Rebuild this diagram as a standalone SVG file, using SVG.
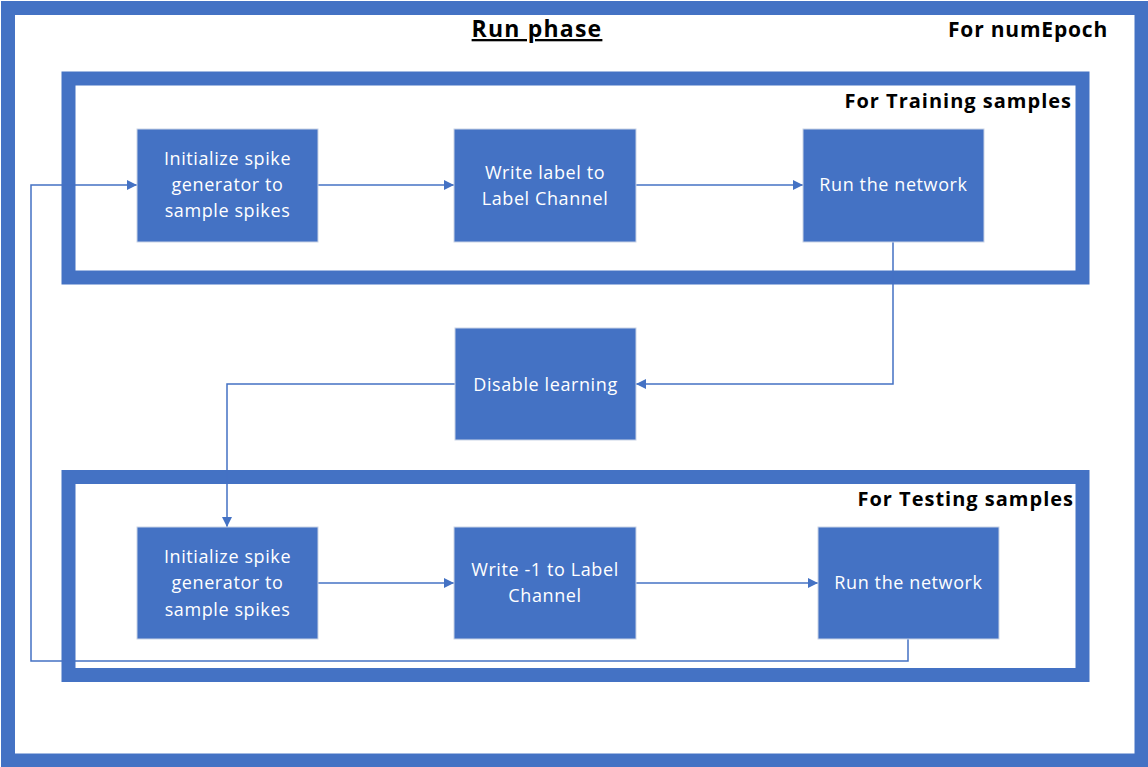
<svg xmlns="http://www.w3.org/2000/svg" width="1148" height="767" viewBox="0 0 1148 767">
<style>
.frame{fill:none;stroke:#4472C4;stroke-width:14}
.box{fill:#4472C4;stroke:#c9d3e6;stroke-width:1}
.bt{font-family:"Open Sans","Liberation Sans",sans-serif;font-size:18px;fill:#ffffff;text-anchor:middle;letter-spacing:0.6px}
.hd{font-family:"Open Sans","Liberation Sans",sans-serif;font-weight:bold;fill:#000000}
.conn{fill:none;stroke:#4472C4;stroke-width:1.5}
</style>
<defs>
<marker id="ah" viewBox="0 0 10 10" refX="10" refY="5" markerWidth="10" markerHeight="10" markerUnits="userSpaceOnUse" orient="auto">
<path d="M0,0 L10,5 L0,10 Z" fill="#4472C4"/>
</marker>
</defs>
<rect width="1148" height="767" fill="#ffffff"/>
<g id="outer">
<rect class="frame" x="8" y="8" width="1133.5" height="752.5"/>
<text class="hd" x="537" y="37" font-size="23" text-anchor="middle" letter-spacing="1.2" text-decoration="underline">Run phase</text>
<text class="hd" x="1108" y="37" font-size="21" text-anchor="end" letter-spacing="0.8">For numEpoch</text>
</g>
<g id="training">
<rect class="frame" x="68.5" y="78.5" width="1014" height="199"/>
<text class="hd" x="1072" y="108" font-size="20" text-anchor="end" letter-spacing="1">For Training samples</text>
</g>
<g id="testing">
<rect class="frame" x="68.5" y="477" width="1014" height="198"/>
<text class="hd" x="1074" y="506" font-size="20" text-anchor="end" letter-spacing="1">For Testing samples</text>
</g>
<g id="connectors">
<path class="conn" d="M318,185 H454" marker-end="url(#ah)"/>
<path class="conn" d="M636,185 H803" marker-end="url(#ah)"/>
<path class="conn" d="M893,242 V384 H636" marker-end="url(#ah)"/>
<path class="conn" d="M455,384 H227 V527" marker-end="url(#ah)"/>
<path class="conn" d="M318,583 H454" marker-end="url(#ah)"/>
<path class="conn" d="M636,583 H818" marker-end="url(#ah)"/>
<path class="conn" d="M908,639 V661 H31 V185 H137" marker-end="url(#ah)"/>
</g>
<g id="train-init">
<rect class="box" x="137" y="129" width="181" height="113"/>
<text class="bt" x="227.5" y="165">Initialize spike</text>
<text class="bt" x="227.5" y="191">generator to</text>
<text class="bt" x="227.5" y="217">sample spikes</text>
</g>
<g id="train-write">
<rect class="box" x="454" y="129" width="182" height="113"/>
<text class="bt" x="545" y="179">Write label to</text>
<text class="bt" x="545" y="205">Label Channel</text>
</g>
<g id="train-run">
<rect class="box" x="803" y="129" width="181" height="113"/>
<text class="bt" x="893.5" y="191">Run the network</text>
</g>
<g id="disable">
<rect class="box" x="455" y="328" width="181" height="112"/>
<text class="bt" x="545.5" y="391">Disable learning</text>
</g>
<g id="test-init">
<rect class="box" x="137" y="527" width="181" height="112"/>
<text class="bt" x="227.5" y="563">Initialize spike</text>
<text class="bt" x="227.5" y="589">generator to</text>
<text class="bt" x="227.5" y="616">sample spikes</text>
</g>
<g id="test-write">
<rect class="box" x="454" y="527" width="182" height="112"/>
<text class="bt" x="545" y="576">Write -1 to Label</text>
<text class="bt" x="545" y="602">Channel</text>
</g>
<g id="test-run">
<rect class="box" x="818" y="527" width="181" height="112"/>
<text class="bt" x="908.5" y="589">Run the network</text>
</g>
</svg>
